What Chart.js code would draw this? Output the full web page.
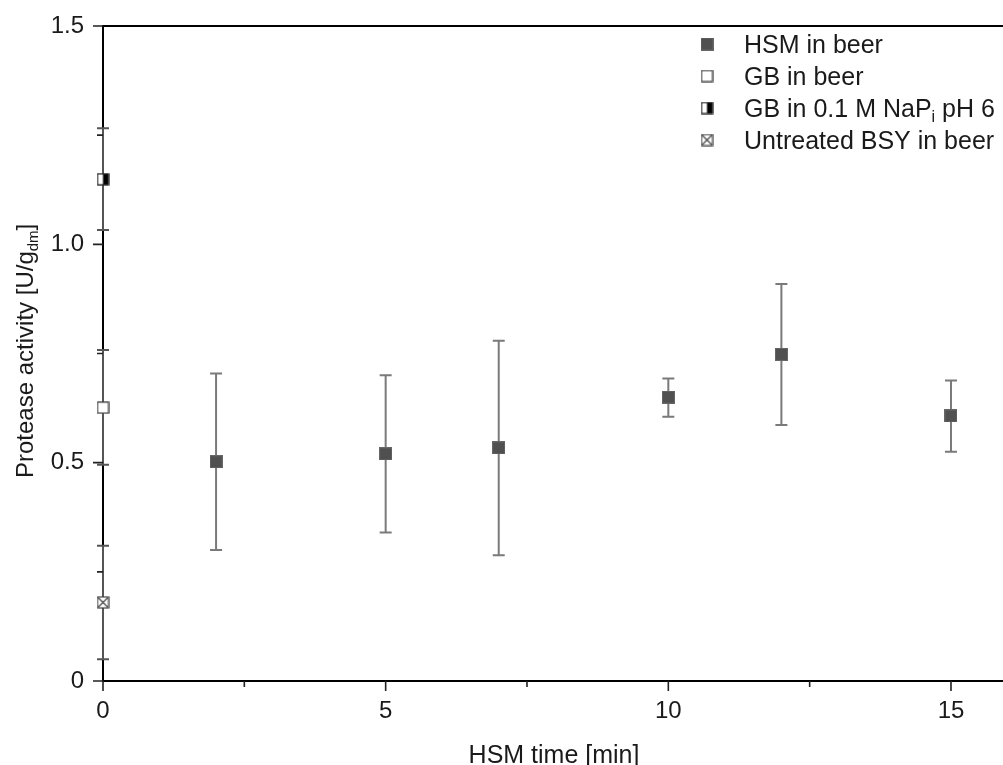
<!DOCTYPE html>
<html>
<head>
<meta charset="utf-8">
<script src="https://cdn.jsdelivr.net/npm/chart.js@4/dist/chart.umd.min.js"></script>
<style>
  html, body { margin: 0; padding: 0; background: #fff; }
  #wrap { width: 1003px; height: 765px; }
</style>
</head>
<body>
<div id="wrap"><canvas id="myChart" width="1003" height="765"></canvas></div>
<script>
// HSM series
const hsmTime = [2, 5, 7, 10, 12, 15];
const hsmActivity = [0.502, 0.520, 0.534, 0.650, 0.748, 0.607];
const hsmLow = [0.300, 0.340, 0.288, 0.605, 0.586, 0.525];
const hsmHigh = [0.704, 0.700, 0.779, 0.693, 0.909, 0.688];

// reference samples, all at time 0
const gbBeer = [0.626];
const gbBeerLow = [0.495];
const gbBeerHigh = [0.758];
const gbNaPi = [1.149];
const gbNaPiLow = [1.033];
const gbNaPiHigh = [1.266];
const bsyBeer = [0.180];
const bsyBeerLow = [0.050];
const bsyBeerHigh = [0.310];

const xTicks = [0, 5, 10, 15];
const xMinor = [2.5, 7.5, 12.5];
const yTicks = [0, 0.5, 1.0, 1.5];
const yTickLabels = ['0', '0.5', '1.0', '1.5'];
const yMinor = [0.25, 0.75, 1.25];

const FONT = '"Liberation Sans", Arial, sans-serif';
const TXT = '#1a1a1a';

// little square markers as canvases
function makeMarker(kind) {
  const c = document.createElement('canvas');
  c.width = 13; c.height = 13;
  const g = c.getContext('2d');
  if (kind == 'filled') {
    g.fillStyle = '#505050';
    g.fillRect(0.5, 0.5, 12, 12);
    g.strokeStyle = '#666';
    g.lineWidth = 1;
    g.strokeRect(0.5, 0.5, 12, 12);
  } else if (kind == 'open') {
    g.fillStyle = '#fff';
    g.fillRect(1, 1, 11, 11);
    g.strokeStyle = '#444';
    g.lineWidth = 1.3;
    g.strokeRect(1, 1, 11, 11);
  } else if (kind == 'half') {
    g.fillStyle = '#fff';
    g.fillRect(1, 1, 11, 11);
    g.fillStyle = '#000';
    g.fillRect(6.5, 1, 5.5, 11);
    g.strokeStyle = '#222';
    g.lineWidth = 1.3;
    g.strokeRect(1, 1, 11, 11);
  } else {
    g.fillStyle = '#fff';
    g.fillRect(1, 1, 11, 11);
    g.strokeStyle = '#444';
    g.lineWidth = 1.2;
    g.strokeRect(1, 1, 11, 11);
    g.beginPath();
    g.moveTo(1.5, 1.5); g.lineTo(11.5, 11.5);
    g.moveTo(11.5, 1.5); g.lineTo(1.5, 11.5);
    g.stroke();
  }
  return c;
}

const mFilled = makeMarker('filled');
const mOpen = makeMarker('open');
const mHalf = makeMarker('half');
const mCross = makeMarker('cross');

function pts(xs, ys) {
  return ys.map((v, i) => ({ x: xs[i], y: v }));
}

// text with a subscript part
function drawSub(ctx, x, y, parts, size) {
  let cx = x;
  parts.forEach(p => {
    ctx.font = (p.sub ? Math.round(size * 0.64) : size) + 'px ' + FONT;
    ctx.fillText(p.t, cx, y + (p.sub ? 5 : 0));
    cx += ctx.measureText(p.t).width;
  });
}

const decorPlugin = {
  id: 'decor',
  beforeDatasetsDraw(chart) {
    const ctx = chart.ctx;
    const xs = chart.scales.x, ys = chart.scales.y;
    ctx.save();
    chart.data.datasets.forEach(ds => {
      ds.data.forEach((p, i) => {
        const px = xs.getPixelForValue(p.x);
        const lo = ys.getPixelForValue(ds.errLow[i]);
        const hi = ys.getPixelForValue(ds.errHigh[i]);
        ctx.strokeStyle = ds.errColor;
        ctx.lineWidth = 2;
        ctx.beginPath();
        ctx.moveTo(px, lo); ctx.lineTo(px, hi);
        ctx.moveTo(px - 6, lo); ctx.lineTo(px + 6, lo);
        ctx.moveTo(px - 6, hi); ctx.lineTo(px + 6, hi);
        ctx.stroke();
      });
    });
    ctx.restore();
  },
  afterDraw(chart) {
    const ctx = chart.ctx;
    const a = chart.chartArea;
    const xs = chart.scales.x, ys = chart.scales.y;
    ctx.save();
    // top frame line
    ctx.strokeStyle = '#000';
    ctx.lineWidth = 2;
    ctx.beginPath();
    ctx.moveTo(a.left - 1, a.top); ctx.lineTo(a.right, a.top);
    ctx.stroke();
    // ticks, outward
    ctx.lineWidth = 1.6;
    ctx.strokeStyle = '#222';
    ctx.beginPath();
    xTicks.forEach(v => { const p = xs.getPixelForValue(v); ctx.moveTo(p, a.bottom); ctx.lineTo(p, a.bottom + 10); });
    xMinor.forEach(v => { const p = xs.getPixelForValue(v); ctx.moveTo(p, a.bottom); ctx.lineTo(p, a.bottom + 6); });
    yTicks.forEach(v => { const p = ys.getPixelForValue(v); ctx.moveTo(a.left, p); ctx.lineTo(a.left - 10, p); });
    yMinor.forEach(v => { const p = ys.getPixelForValue(v); ctx.moveTo(a.left, p); ctx.lineTo(a.left - 6, p); });
    ctx.stroke();

    ctx.fillStyle = TXT;
    ctx.textBaseline = 'alphabetic';
    // x title
    ctx.font = '25px ' + FONT;
    ctx.textAlign = 'center';
    ctx.fillText('HSM time [min]', 554, 763);
    ctx.textAlign = 'left';
    // y title, rotated
    ctx.save();
    ctx.translate(33, 478);
    ctx.rotate(-Math.PI / 2);
    drawSub(ctx, 0, 0, [{ t: 'Protease activity [U/g' }, { t: 'dm', sub: true }, { t: ']' }], 24);
    ctx.restore();

    // legend
    const rows = [
      { img: mFilled, parts: [{ t: 'HSM in beer' }] },
      { img: mOpen, parts: [{ t: 'GB in beer' }] },
      { img: mHalf, parts: [{ t: 'GB in 0.1 M NaP' }, { t: 'i', sub: true }, { t: ' pH 6' }] },
      { img: mCross, parts: [{ t: 'Untreated BSY in beer' }] }
    ];
    rows.forEach((r, i) => {
      const y = 44 + i * 32;
      ctx.drawImage(r.img, 707 - 6.5, y - 6.5);
      drawSub(ctx, 744, y + 9, r.parts, 25);
    });
    ctx.restore();
  }
};

const ctx = document.getElementById('myChart');
const myChart = new Chart(ctx, {
  type: 'scatter',
  data: {
    datasets: [
      { label: 'HSM in beer', data: pts(hsmTime, hsmActivity), errLow: hsmLow, errHigh: hsmHigh,
        errColor: '#7a7a7a', pointStyle: mFilled, clip: false },
      { label: 'GB in beer', data: pts([0], gbBeer), errLow: gbBeerLow, errHigh: gbBeerHigh,
        errColor: '#555', pointStyle: mOpen, clip: false },
      { label: 'GB in 0.1 M NaPi pH 6', data: pts([0], gbNaPi), errLow: gbNaPiLow, errHigh: gbNaPiHigh,
        errColor: '#555', pointStyle: mHalf, clip: false },
      { label: 'Untreated BSY in beer', data: pts([0], bsyBeer), errLow: bsyBeerLow, errHigh: bsyBeerHigh,
        errColor: '#555', pointStyle: mCross, clip: false }
    ]
  },
  options: {
    responsive: false,
    animation: false,
    layout: { autoPadding: false, padding: { top: 26, right: 0, left: 0, bottom: 0 } },
    plugins: {
      legend: { display: false },
      tooltip: { enabled: false }
    },
    scales: {
      x: {
        type: 'linear',
        min: 0,
        max: 15.92,
        afterBuildTicks: s => { s.ticks = xTicks.map(v => ({ value: v })); },
        afterFit: s => { s.height = 84; s.paddingLeft = 0; s.paddingRight = 0; },
        grid: { drawOnChartArea: false, drawTicks: false },
        border: { color: '#000', width: 2 },
        ticks: { padding: 16, color: TXT, font: { family: FONT, size: 24 } }
      },
      y: {
        type: 'linear',
        min: 0,
        max: 1.5,
        afterBuildTicks: s => { s.ticks = yTicks.map(v => ({ value: v })); },
        afterFit: s => { s.width = 103; s.paddingTop = 0; s.paddingBottom = 0; },
        grid: { drawOnChartArea: false, drawTicks: false },
        border: { color: '#000', width: 2 },
        ticks: {
          padding: 19, color: TXT, font: { family: FONT, size: 24 },
          callback: (v, i) => yTickLabels[i]
        }
      }
    }
  },
  plugins: [decorPlugin]
});
</script>
</body>
</html>
